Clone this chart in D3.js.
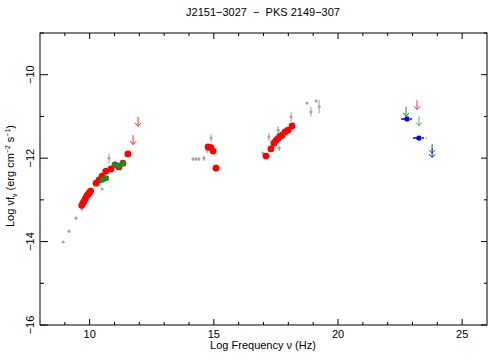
<!DOCTYPE html>
<html>
<head>
<meta charset="utf-8">
<script src="https://cdn.jsdelivr.net/npm/d3@7"></script>
<style>
  body { margin: 0; background: #fff; }
  text { font-family: "Liberation Sans", Arial, sans-serif; fill: #000; white-space: pre; }
</style>
</head>
<body>
<div class="svg-container"></div>
<script>
var width = 490;
var height = 354;

var padding = { "top": 33, "right": 3, "bottom": 29, "left": 40 };

// archival points (grey): log nu, log nuFnu, error
var greyX   = [8.93, 9.17, 9.45, 9.69, 10.5, 10.78, 10.55,
               14.16, 14.28, 14.40, 14.60, 14.73, 14.89,
               16.98, 17.18, 17.22, 17.42, 17.59, 17.63, 18.11, 18.75, 18.91, 19.12, 19.24];
var greyY   = [-14.01, -13.75, -13.44, -13.22, -12.74, -12.0, -12.31,
               -12.02, -12.02, -12.02, -12.0, -11.81, -11.52,
               -11.88, -11.95, -11.49, -11.59, -11.33, -11.76, -11.01, -10.68, -10.89, -10.63, -10.77];
var greyErr = [0, 0.03, 0, 0, 0, 0.12, 0.05,
               0.04, 0.04, 0.04, 0.06, 0.08, 0.1,
               0, 0.05, 0.1, 0, 0.1, 0.07, 0.12, 0, 0.12, 0, 0.16];

// red points
var redX = [9.68, 9.73, 9.78, 9.83, 9.88, 9.93, 9.99, 10.04, 10.26, 10.38, 10.5, 10.66, 10.86, 11.02, 11.18, 11.34, 11.54,
            14.77, 14.89, 14.97, 15.09,
            17.10, 17.30, 17.42, 17.50, 17.58, 17.66, 17.75, 17.87, 17.99, 18.15];
var redY = [-13.13, -13.08, -13.03, -12.97, -12.91, -12.87, -12.83, -12.79, -12.60, -12.52, -12.43, -12.31, -12.26, -12.16, -12.21, -12.12, -11.90,
            -11.73, -11.75, -11.83, -12.24,
            -11.95, -11.78, -11.64, -11.58, -11.53, -11.48, -11.45, -11.37, -11.33, -11.23];

// green points
var greenX = [10.52, 10.66, 11.02, 11.18, 11.34];
var greenY = [-12.52, -12.48, -12.16, -12.18, -12.13];

// blue points with horizontal errors
var blueX  = [22.78, 23.26];
var blueY  = [-11.06, -11.52];
var blueX0 = [22.54, 23.02];
var blueX1 = [23.06, 23.56];

// upper limits
var limX     = [11.75, 11.95, 22.74, 23.18, 23.26, 23.79, 23.79];
var limY     = [-11.45, -11.01, -10.77, -10.61, -11.0, -11.66, -11.76];
var limColor = ["#ff3030", "#ff3030", "#1f8a1f", "#ff3030", "#5aa85a", "#1f8a1f", "#2020ff"];

var svg = d3.select(".svg-container")
            .append("svg")
            .attr("width", width)
            .attr("height", height);

var scaleX = d3.scaleLinear()
               .domain([8, 26])
               .range([padding.left, width - padding.right]);

var scaleY = d3.scaleLinear()
               .domain([-16, -9])
               .range([height - padding.bottom, padding.top]);

var x0 = scaleX.range()[0], x1 = scaleX.range()[1];
var y0 = scaleY.range()[0], y1 = scaleY.range()[1];

var xMajor = [10, 15, 20, 25];
var xMinor = d3.range(9, 26, 1).filter(function(v) { return xMajor.indexOf(v) < 0; });
var yMajor = [-16, -14, -12, -10];
var yMinor = [-15, -13, -11, -9];

// frame
svg.append("rect")
   .attr("x", x0).attr("y", y1)
   .attr("width", x1 - x0).attr("height", y0 - y1)
   .attr("fill", "none").attr("stroke", "#000").attr("stroke-width", 1);

// ticks, all pointing inward
function tick(xa, ya, xb, yb) {
  svg.append("line")
     .attr("x1", xa).attr("y1", ya).attr("x2", xb).attr("y2", yb)
     .attr("stroke", "#000").attr("stroke-width", 1);
}
xMajor.forEach(function(v) { tick(scaleX(v), y0, scaleX(v), y0 - 6); tick(scaleX(v), y1, scaleX(v), y1 + 6); });
xMinor.forEach(function(v) { tick(scaleX(v), y0, scaleX(v), y0 - 3); tick(scaleX(v), y1, scaleX(v), y1 + 3); });
yMajor.forEach(function(v) { tick(x0, scaleY(v), x0 + 8, scaleY(v)); tick(x1, scaleY(v), x1 - 6, scaleY(v)); });
yMinor.forEach(function(v) { tick(x0, scaleY(v), x0 + 4, scaleY(v)); tick(x1, scaleY(v), x1 - 3, scaleY(v)); });

var fmt = function(v) { return String(v).replace("-", "\u2212"); };

// tick labels
svg.selectAll(".xlab").data(xMajor).enter().append("text")
   .attr("x", function(d) { return scaleX(d); })
   .attr("y", y0 + 13)
   .attr("text-anchor", "middle")
   .attr("font-size", 11)
   .text(fmt);

svg.selectAll(".ylab").data(yMajor).enter().append("text")
   .attr("transform", function(d) { return "translate(34," + scaleY(d) + ") rotate(-90)"; })
   .attr("text-anchor", "middle")
   .attr("font-size", 11)
   .text(fmt);

// title and axis labels
svg.append("text")
   .attr("x", 263).attr("y", 16)
   .attr("text-anchor", "middle")
   .attr("font-size", 11)
   .text("J2151\u22123027  \u2212  PKS 2149\u2212307");

svg.append("text")
   .attr("x", 263).attr("y", 349)
   .attr("text-anchor", "middle")
   .attr("font-size", 11)
   .text("Log Frequency \u03bd (Hz)");

var yl = svg.append("text")
   .attr("transform", "translate(14,176) rotate(-90)")
   .attr("text-anchor", "middle")
   .attr("font-size", 11);
yl.append("tspan").text("Log \u03bdf");
yl.append("tspan").attr("font-size", 7).attr("dy", 3).text("\u03bd");
yl.append("tspan").attr("dy", -3).text(" (erg cm");
yl.append("tspan").attr("font-size", 7).attr("dy", -4).text("\u22122");
yl.append("tspan").attr("dy", 4).text(" s");
yl.append("tspan").attr("font-size", 7).attr("dy", -4).text("\u22121");
yl.append("tspan").attr("dy", 4).text(")");

// grey archival data
var grey = greyX.map(function(d, i) { return { x: d, y: greyY[i], e: greyErr[i] }; });
var gg = svg.append("g");
gg.selectAll("line").data(grey.filter(function(d) { return d.e > 0; })).enter().append("line")
  .attr("x1", function(d) { return scaleX(d.x); })
  .attr("x2", function(d) { return scaleX(d.x); })
  .attr("y1", function(d) { return scaleY(d.y - d.e); })
  .attr("y2", function(d) { return scaleY(d.y + d.e); })
  .attr("stroke", "#b0b0b0").attr("stroke-width", 1.2);
gg.selectAll("circle").data(grey).enter().append("circle")
  .attr("cx", function(d) { return scaleX(d.x); })
  .attr("cy", function(d) { return scaleY(d.y); })
  .attr("r", 1.6)
  .attr("fill", "#a8a8a8");

// red data
svg.append("g").selectAll("circle")
   .data(redX.map(function(d, i) { return { x: d, y: redY[i] }; }))
   .enter().append("circle")
   .attr("cx", function(d) { return scaleX(d.x); })
   .attr("cy", function(d) { return scaleY(d.y); })
   .attr("r", 3.4)
   .attr("fill", "#ff0000");

// green data
svg.append("g").selectAll("circle")
   .data(greenX.map(function(d, i) { return { x: d, y: greenY[i] }; }))
   .enter().append("circle")
   .attr("cx", function(d) { return scaleX(d.x); })
   .attr("cy", function(d) { return scaleY(d.y); })
   .attr("r", 3)
   .attr("fill", "#1f8a1f");

// blue gamma-ray points
var blue = blueX.map(function(d, i) { return { x: d, y: blueY[i], lo: blueX0[i], hi: blueX1[i] }; });
var bg = svg.append("g");
bg.selectAll("line").data(blue).enter().append("line")
  .attr("x1", function(d) { return scaleX(d.lo); })
  .attr("x2", function(d) { return scaleX(d.hi); })
  .attr("y1", function(d) { return scaleY(d.y); })
  .attr("y2", function(d) { return scaleY(d.y); })
  .attr("stroke", "#0000ff").attr("stroke-width", 1.5)
  .attr("stroke-dasharray", "7,2,2,2");
bg.selectAll("circle").data(blue).enter().append("circle")
  .attr("cx", function(d) { return scaleX(d.x); })
  .attr("cy", function(d) { return scaleY(d.y); })
  .attr("r", 2.6)
  .attr("fill", "#0000ff");

// upper limit arrows
var lims = limX.map(function(d, i) { return { x: d, y: limY[i], c: limColor[i] }; });
var lg = svg.append("g");
lims.forEach(function(d) {
  var px = scaleX(d.x), py = scaleY(d.y);
  var path = "M" + px + "," + py + "V" + (py + 9) +
             "M" + (px - 3) + "," + (py + 6) + "L" + px + "," + (py + 9.5) + "L" + (px + 3) + "," + (py + 6);
  lg.append("path")
    .attr("d", path)
    .attr("fill", "none")
    .attr("stroke", d.c)
    .attr("stroke-width", 1);
});
</script>
</body>
</html>
